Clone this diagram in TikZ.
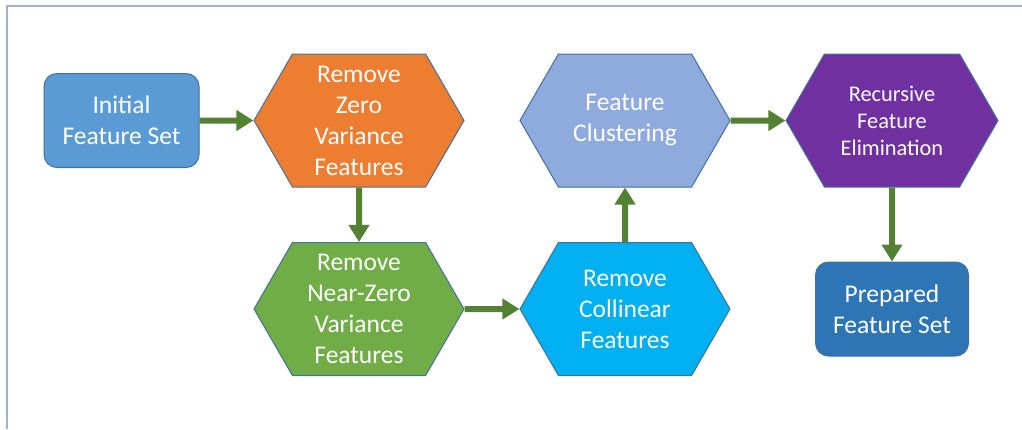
\documentclass[tikz,border=0pt]{standalone}
\usepackage{fontspec}
\setmainfont{Carlito}
\usetikzlibrary{arrows.meta}
\usetikzlibrary{shapes.symbols}

\definecolor{edgeblue}{HTML}{41719C}
\definecolor{framecol}{HTML}{9DB3D3}
\definecolor{flowgreen}{HTML}{548235}
\definecolor{initcol}{HTML}{5B9BD5}
\definecolor{zerocol}{HTML}{ED7D31}
\definecolor{nearcol}{HTML}{70AD47}
\definecolor{collcol}{HTML}{00B0F0}
\definecolor{clustcol}{HTML}{8FAADC}
\definecolor{rfecol}{HTML}{7030A0}
\definecolor{prepcol}{HTML}{2E75B6}

\begin{document}
\begin{tikzpicture}[x=.5pt,y=-.5pt,
  box/.style={draw=edgeblue, line width=.5pt, rounded corners=6.5pt, minimum width=77.5pt, minimum height=47pt, inner sep=0pt, text=white, align=center, font=\fontsize{12.75}{15.5}\selectfont},
  hexa/.style={shape=signal, signal to=west and east, signal pointer angle=120, draw=edgeblue, line width=.5pt, minimum width=105pt, minimum height=66.5pt, inner sep=0pt, text=white, align=center, font=\fontsize{12.75}{15.5}\selectfont},
  flow/.style={draw=flowgreen, line width=3pt, -{Triangle[length=8.5pt,width=10pt]}}]
\useasboundingbox (0,0) rectangle (1022,429);
\draw[framecol, line width=1pt] (7,429) -- (7,6) -- (1022,6);

\node[box, fill=initcol] (init) at (121.5,120.5) {Initial\\Feature Set};
\node[hexa, fill=zerocol] (rzv) at (359,120.5) {Remove\\Zero\\Variance\\Features};
\node[hexa, fill=nearcol] (rnzv) at (359,309) {Remove\\Near-Zero\\Variance\\Features};
\node[hexa, fill=collcol] (rcf) at (625,309) {Remove\\Collinear\\Features};
\node[hexa, fill=clustcol] (fc) at (625,120.5) {Feature\\Clustering};
\node[hexa, fill=rfecol, minimum width=106pt, font=\fontsize{11.2}{13.5}\selectfont] (rfe) at (892,120.5) {Recursive\\Feature\\Elimination};
\node[box, fill=prepcol, minimum width=76.5pt] (pfs) at (892,309) {Prepared\\Feature Set};

\foreach \a/\b in {init/rzv, rzv/rnzv, rnzv/rcf, rcf/fc, fc/rfe, rfe/pfs}
 \draw[flow] (\a) -- (\b);
\end{tikzpicture}
\end{document}
